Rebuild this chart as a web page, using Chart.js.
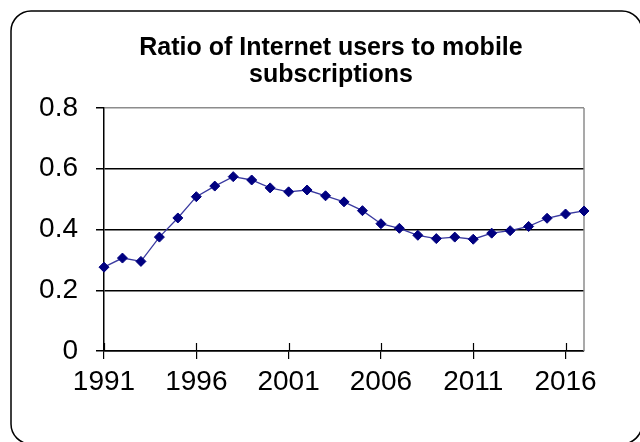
<!DOCTYPE html>
<html>
<head>
<meta charset="utf-8">
<script src="https://cdn.jsdelivr.net/npm/chart.js@4"></script>
<style>
  html, body { margin: 0; padding: 0; background: #fff; }
  #wrap { width: 640px; height: 442px; position: relative; }
</style>
</head>
<body>
<div id="wrap"><canvas id="c" width="640" height="442"></canvas></div>
<script>
const chartTitle = ['Ratio of Internet users to mobile', 'subscriptions'];
const years = ['1991','1992','1993','1994','1995','1996','1997','1998','1999','2000',
               '2001','2002','2003','2004','2005','2006','2007','2008','2009','2010',
               '2011','2012','2013','2014','2015','2016','2017'];
const ratio = [0.276,0.306,0.295,0.375,0.438,0.508,0.543,0.574,0.563,0.537,
               0.524,0.530,0.511,0.491,0.462,0.419,0.404,0.381,0.370,0.375,
               0.368,0.388,0.396,0.410,0.437,0.451,0.461];
const yTicks = [0, 0.2, 0.4, 0.6, 0.8];
const labelEvery = 5;

const FONT = "'Liberation Sans', Arial, sans-serif";

const frame = {
  id: 'frame',
  beforeDraw(chart) {
    const ctx = chart.ctx;
    ctx.save();
    ctx.fillStyle = '#fff';
    ctx.fillRect(0, 0, chart.width, chart.height);
    ctx.strokeStyle = '#000';
    ctx.lineWidth = 1.5;
    ctx.beginPath();
    ctx.roundRect(11, 11, 631, 433, 20);
    ctx.stroke();
    ctx.restore();
  },
  beforeDatasetsDraw(chart) {
    const ctx = chart.ctx, a = chart.chartArea, x = chart.scales.x;
    ctx.save();
    ctx.strokeStyle = '#8c8c8c';
    ctx.lineWidth = 1.5;
    ctx.beginPath();
    ctx.moveTo(a.right, a.top);
    ctx.lineTo(a.right, a.bottom);
    ctx.stroke();
    ctx.strokeStyle = '#000';
    ctx.lineWidth = 1.2;
    x.ticks.forEach((t, i) => {
      if (i % labelEvery === 0) {
        const px = Math.round(x.getPixelForTick(i)) + 0.5;
        ctx.beginPath();
        ctx.moveTo(px, a.bottom - 8);
        ctx.lineTo(px, a.bottom);
        ctx.stroke();
      }
    });
    ctx.restore();
  }
};

new Chart(document.getElementById('c'), {
  type: 'line',
  data: {
    labels: years,
    datasets: [{
      data: ratio,
      borderColor: '#3a3aa0',
      borderWidth: 1.3,
      backgroundColor: '#000080',
      pointBackgroundColor: '#000080',
      pointBorderColor: '#000080',
      pointStyle: 'rectRot',
      pointRadius: 5,
      pointBorderWidth: 1,
      tension: 0,
      fill: false
    }]
  },
  options: {
    responsive: false,
    animation: false,
    devicePixelRatio: 1,
    layout: { padding: { left: 22, right: 0, top: 0, bottom: 0 } },
    plugins: {
      legend: { display: false },
      tooltip: { enabled: false },
      title: {
        display: true,
        text: chartTitle,
        color: '#000',
        font: { family: FONT, size: 25, weight: 'bold', lineHeight: 1.1 },
        padding: { top: 34, bottom: 19 }
      }
    },
    scales: {
      x: {
        type: 'category',
        offset: false,
        afterFit(s) { s.height = 91; },
        grid: {
          drawOnChartArea: false,
          tickLength: 8,
          lineWidth: 1.2,
          color: (c) => (c.index % labelEvery === 0 ? '#000' : 'rgba(0,0,0,0)')
        },
        border: { display: true, color: '#000', width: 1.5 },
        ticks: {
          autoSkip: false,
          maxRotation: 0,
          minRotation: 0,
          padding: 6,
          color: '#000',
          font: { family: FONT, size: 28 },
          callback(v, i) { return i % labelEvery === 0 ? years[i] : ''; }
        }
      },
      y: {
        min: 0,
        max: 0.8,
        afterFit(s) { s.width = 82; },
        afterBuildTicks(s) { s.ticks = yTicks.map(v => ({ value: v })); },
        grid: {
          drawOnChartArea: true,
          tickLength: 8,
          lineWidth: 1.5,
          tickColor: '#000',
          color: (c) => (c.tick && c.tick.value === 0.8 ? '#8c8c8c' : '#000')
        },
        border: { display: true, color: '#000', width: 1.5 },
        ticks: {
          padding: 18,
          color: '#000',
          font: { family: FONT, size: 28 },
          callback(v) { return String(v); }
        }
      },
      spacer: {
        type: 'linear',
        position: 'right',
        display: true,
        afterFit(s) { s.width = 56; },
        grid: { display: false, drawTicks: false },
        border: { display: false },
        ticks: { display: false }
      }
    }
  },
  plugins: [frame]
});
</script>
</body>
</html>
